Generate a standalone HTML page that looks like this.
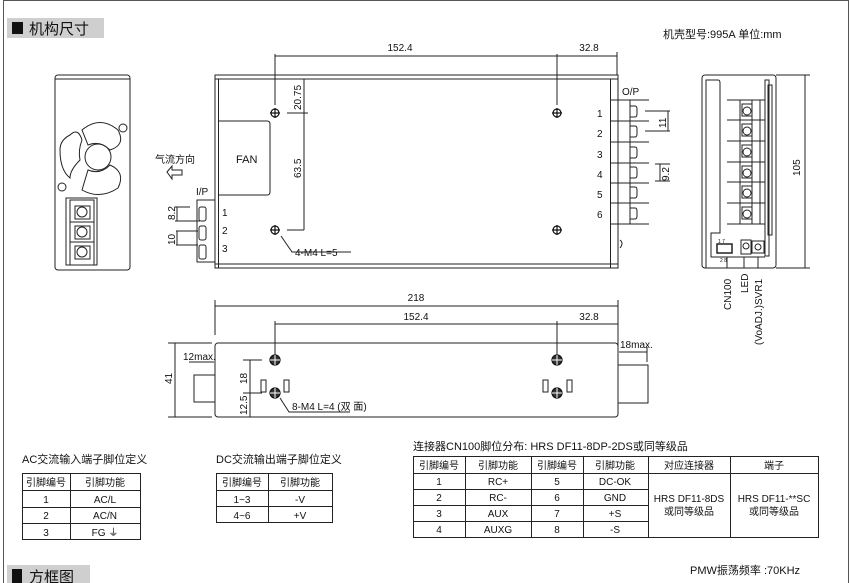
<!DOCTYPE html>
<html><head><meta charset="utf-8"><style>
html,body{margin:0;padding:0;background:#fff;width:851px;height:583px;overflow:hidden}
svg{display:block}
text{font-family:"Liberation Sans","Noto Sans CJK SC",sans-serif;fill:#111}
.c{font-family:"Liberation Sans","Noto Sans CJK SC",sans-serif}
</style></head><body>
<svg width="851" height="583" viewBox="0 0 851 583" xmlns="http://www.w3.org/2000/svg">
<g fill="none" stroke="#222" stroke-width="1">
<!-- frame -->
<line x1="3" y1="0.5" x2="848" y2="0.5" stroke="#555"/>
<line x1="3.5" y1="0" x2="3.5" y2="583" stroke="#555"/>
<line x1="848.5" y1="0" x2="848.5" y2="583" stroke="#555"/>
</g>
<rect x="7" y="18" width="97" height="20" fill="#cfcfcf"/>
<rect x="12" y="22" width="11" height="12" fill="#111"/>
<text x="29" y="34" font-size="15" fill="#333">机构尺寸</text>
<text x="663" y="38" font-size="11" fill="#666">机壳型号:995A  单位:mm</text>

<g fill="none" stroke="#222" stroke-width="1">
<!-- left end view -->
<rect x="55" y="75" width="75" height="195" rx="3"/>
<line x1="55" y1="79" x2="130" y2="79"/>
<path d="M70 135 Q78 127 82 140 Q78 150 80 160 Q70 170 70 178 Q60 170 60 150 Q60 140 70 135Z"/>
<path d="M82 130 Q100 115 118 130 Q126 145 110 150 Q100 140 88 145 Z"/>
<path d="M82 190 Q100 200 118 188 Q126 172 110 165 Q100 175 88 170 Z"/>
<circle cx="98" cy="157" r="13"/>
<circle cx="123" cy="128" r="4"/><circle cx="62" cy="187" r="4"/>
<rect x="66" y="198" width="31" height="67"/>
<rect x="70" y="200" width="24" height="65"/>
<line x1="70" y1="222" x2="94" y2="222"/><line x1="70" y1="242" x2="94" y2="242"/>
<rect x="75" y="206" width="15" height="13"/><circle cx="82" cy="212" r="5"/>
<rect x="75" y="226" width="15" height="13"/><circle cx="82" cy="232" r="5"/>
<rect x="75" y="246" width="15" height="13"/><circle cx="82" cy="252" r="5"/>

<!-- main top view -->
<rect x="215" y="75" width="403" height="193"/>
<line x1="215" y1="79" x2="618" y2="79"/>
<line x1="218.5" y1="79" x2="218.5" y2="268"/>
<line x1="610.5" y1="79" x2="610.5" y2="268"/>
<line x1="215" y1="264" x2="618" y2="264"/>
<path d="M218 121 H267 Q270 121 270 124 V192 Q270 195 267 195 H218"/>
<!-- dims -->
<line x1="275" y1="56" x2="617" y2="56"/>
<line x1="275" y1="54" x2="275" y2="105"/>
<line x1="557" y1="54" x2="557" y2="105"/>
<line x1="617" y1="52" x2="617" y2="75"/>
<line x1="304" y1="79" x2="304" y2="230"/>
<line x1="287" y1="113" x2="308" y2="113"/>
<line x1="287" y1="230" x2="304" y2="230"/>
<path d="M281 236 L292 252 H351"/>
<!-- I/P -->
<path d="M215 200 H197 V262 H215"/>
<rect x="199" y="207" width="7" height="14" rx="2"/>
<rect x="199" y="226" width="7" height="14" rx="2"/>
<rect x="199" y="245" width="7" height="14" rx="2"/>
<path d="M175 207 H190 M175 221 H200 M176 231 H198 M176 245 H198"/>
<line x1="177" y1="207" x2="177" y2="221"/><line x1="177" y1="231" x2="177" y2="245"/>
<path d="M167 172 L172 166 V170 H182 V175 H172 V179 Z"/>
<!-- O/P -->
<g>
<line x1="610" y1="100" x2="649" y2="100"/><line x1="610" y1="121" x2="649" y2="121"/>
<line x1="610" y1="142" x2="649" y2="142"/><line x1="610" y1="163" x2="649" y2="163"/>
<line x1="610" y1="183" x2="649" y2="183"/><line x1="610" y1="203" x2="649" y2="203"/>
<line x1="610" y1="224" x2="649" y2="224"/>
<line x1="630" y1="100" x2="630" y2="224"/>
<path d="M630 106 H635 Q637 106 637 109 V114 Q637 117 635 117 H630"/>
<path d="M630 126 H635 Q637 126 637 129 V134 Q637 137 635 137 H630"/>
<path d="M630 147 H635 Q637 147 637 150 V155 Q637 158 635 158 H630"/>
<path d="M630 167 H635 Q637 167 637 170 V175 Q637 178 635 178 H630"/>
<path d="M630 187 H635 Q637 187 637 190 V195 Q637 198 635 198 H630"/>
<path d="M630 208 H635 Q637 208 637 211 V216 Q637 219 635 219 H630"/>
<path d="M620 240 Q624 243 620 248"/>
<path d="M645 111 H670 M645 131 H670 M668 111 V131"/>
<path d="M655 164 H670 M655 181 H670 M660 164 V181"/>
</g>
<!-- right end view -->
<rect x="702" y="75" width="74" height="193" rx="3"/>
<path d="M706 268 V80 H718 Q720 80 720 83 V233 H711 V257 H765"/>
<rect x="765" y="80" width="4" height="176"/>
<rect x="768" y="85" width="4" height="150"/>
<line x1="740" y1="100" x2="740" y2="224"/><line x1="752" y1="100" x2="752" y2="224"/>
<line x1="760" y1="100" x2="760" y2="224"/>
<path d="M727 100 H765 M727 120 H765 M727 141 H765 M727 162 H765 M727 182 H765 M727 203 H765 M727 224 H765"/>
<rect x="742" y="104" width="10" height="12"/><circle cx="747" cy="111" r="4"/>
<rect x="742" y="124" width="10" height="12"/><circle cx="747" cy="131" r="4"/>
<rect x="742" y="145" width="10" height="12"/><circle cx="747" cy="152" r="4"/>
<rect x="742" y="166" width="10" height="12"/><circle cx="747" cy="173" r="4"/>
<rect x="742" y="186" width="10" height="12"/><circle cx="747" cy="193" r="4"/>
<rect x="742" y="207" width="10" height="12"/><circle cx="747" cy="214" r="4"/>
<rect x="717" y="244" width="15" height="9" stroke-width="1.5"/>
<rect x="741" y="240" width="10" height="14"/><circle cx="746" cy="246" r="3"/>
<rect x="752" y="241" width="12" height="12"/><circle cx="758" cy="247" r="3"/>
<line x1="727" y1="257" x2="727" y2="268"/><line x1="744" y1="257" x2="744" y2="268"/><line x1="758" y1="257" x2="758" y2="268"/>
<path d="M776 75 H810 M776 268 H810 M805 75 V268"/>

<!-- bottom side view -->
<rect x="215" y="343" width="403" height="74" rx="3"/>
<path d="M215 306 H618 M215 300 V335 M618 300 V360"/>
<path d="M275 324 H618 M275 321 V355 M557 321 V355"/>
<path d="M215 375 H194 V402 H215"/>
<path d="M618 365 H648 V403 H618"/>
<path d="M619 352 H647 M647 347 V362"/>
<path d="M189 362 H214"/>
<path d="M168 343 H212 M168 417 H212 M175 343 V417"/>
<path d="M243 360 H262 M243 393 H262 M250 360 V417"/>
<path d="M280 398 L289 412 H350"/>
<rect x="261" y="380" width="5" height="12"/><rect x="284" y="380" width="5" height="12"/>
<rect x="543" y="380" width="5" height="12"/><rect x="567" y="380" width="5" height="12"/>
</g>
<!-- screws -->
<g stroke="#111" stroke-width="1.2">
<g fill="#fff"><circle cx="275" cy="113" r="4"/><circle cx="275" cy="230" r="4"/><circle cx="557" cy="113" r="4"/><circle cx="557" cy="230" r="4"/></g>
<path d="M270 113 H280 M275 108 V118 M270 230 H280 M275 225 V235 M552 113 H562 M557 108 V118 M552 230 H562 M557 225 V235"/>
<g fill="#333"><circle cx="275" cy="360" r="5"/><circle cx="557" cy="360" r="5"/><circle cx="275" cy="393" r="5"/><circle cx="557" cy="393" r="5"/></g>
<path d="M270 360 H280 M275 355 V365 M552 360 H562 M557 355 V365 M270 393 H280 M275 388 V398 M552 393 H562 M557 388 V398" stroke="#fff" stroke-width="1"/>
</g>
<!-- labels -->
<g font-size="10">
<text x="400" y="51" text-anchor="middle">152.4</text>
<text x="589" y="51" text-anchor="middle">32.8</text>
<text x="236" y="163" font-size="11">FAN</text>
<text x="155" y="163" font-size="10" fill="#444">气流方向</text>
<text x="196" y="195">I/P</text>
<text x="222" y="216">1</text><text x="222" y="234">2</text><text x="222" y="252">3</text>
<text x="295" y="256">4-M4 L=5</text>
<text x="622" y="95">O/P</text>
<text x="597" y="117">1</text><text x="597" y="137">2</text><text x="597" y="158">3</text>
<text x="597" y="178">4</text><text x="597" y="198">5</text><text x="597" y="218">6</text>
<text transform="translate(301,110) rotate(-90)">20.75</text>
<text transform="translate(301,178) rotate(-90)">63.5</text>
<text transform="translate(175,220) rotate(-90)">8.2</text>
<text transform="translate(175,245) rotate(-90)">10</text>
<text transform="translate(666,128) rotate(-90)">11</text>
<text transform="translate(669,181) rotate(-90)">9.2</text>
<text transform="translate(800,176) rotate(-90)">105</text>
<text transform="translate(731,310) rotate(-90)">CN100</text>
<text transform="translate(748,293) rotate(-90)">LED</text>
<text transform="translate(762,345) rotate(-90)">(VoADJ.)SVR1</text>
<text x="718" y="243" font-size="5">1  7</text><text x="720" y="262" font-size="5">2  8</text>
<text x="416" y="301" text-anchor="middle">218</text>
<text x="416" y="320" text-anchor="middle">152.4</text>
<text x="589" y="320" text-anchor="middle">32.8</text>
<text x="183" y="360">12max.</text>
<text x="620" y="348">18max.</text>
<text transform="translate(172,384) rotate(-90)">41</text>
<text transform="translate(247,384) rotate(-90)">18</text>
<text transform="translate(247,415) rotate(-90)">12.5</text>
<text x="292" y="410">8-M4 L=4 (双 面)</text>
</g>

<!-- tables -->
<g font-size="11">
<text x="22" y="463">AC交流输入端子脚位定义</text>
<text x="216" y="463">DC交流输出端子脚位定义</text>
<text x="413" y="450">连接器CN100脚位分布: HRS DF11-8DP-2DS或同等级品</text>
</g>
<g fill="none" stroke="#222">
<rect x="22.5" y="473.5" width="118" height="66"/>
<path d="M22 490.5 H141 M22 507.5 H141 M22 523.5 H141 M70.5 473 V540"/>
<rect x="216.5" y="473.5" width="116" height="49"/>
<path d="M216 490.5 H333 M216 506.5 H333 M268.5 473 V523"/>
<rect x="413.5" y="456.5" width="405" height="81"/>
<path d="M413 473.5 H819 M413 489.5 H648 M413 505.5 H648 M413 521.5 H648 M465.5 456 V538 M531.5 456 V538 M583.5 456 V538 M648.5 456 V538 M730.5 456 V538"/>
</g>
<g font-size="10" text-anchor="middle">
<g fill="#888"><text x="46" y="486">引脚编号</text><text x="105" y="486">引脚功能</text>
<text x="242" y="486">引脚编号</text><text x="300" y="486">引脚功能</text>
<text x="439" y="469">引脚编号</text><text x="498" y="469">引脚功能</text><text x="557" y="469">引脚编号</text><text x="615" y="469">引脚功能</text><text x="689" y="469">对应连接器</text><text x="774" y="469">端子</text></g>
<text x="46" y="503">1</text><text x="105" y="503">AC/L</text>
<text x="46" y="519">2</text><text x="105" y="519">AC/N</text>
<text x="46" y="536">3</text><text x="105" y="536">FG ⏚</text>
<text x="242" y="503">1~3</text><text x="300" y="503">-V</text>
<text x="242" y="519">4~6</text><text x="300" y="519">+V</text>
<text x="439" y="485">1</text><text x="498" y="485">RC+</text><text x="557" y="485">5</text><text x="615" y="485">DC-OK</text>
<text x="439" y="501">2</text><text x="498" y="501">RC-</text><text x="557" y="501">6</text><text x="615" y="501">GND</text>
<text x="439" y="517">3</text><text x="498" y="517">AUX</text><text x="557" y="517">7</text><text x="615" y="517">+S</text>
<text x="439" y="533">4</text><text x="498" y="533">AUXG</text><text x="557" y="533">8</text><text x="615" y="533">-S</text>
<text x="689" y="502">HRS DF11-8DS</text><text x="689" y="515" fill="#555">或同等级品</text>
<text x="774" y="502">HRS DF11-**SC</text><text x="774" y="515" fill="#555">或同等级品</text>
</g>
<text x="690" y="574" font-size="11">PMW振荡频率 :70KHz</text>
<rect x="7" y="565" width="83" height="20" fill="#cfcfcf"/>
<rect x="12" y="569" width="10" height="14" fill="#111"/>
<text x="29" y="582" font-size="15" fill="#333">方框图</text>
</svg>
</body></html>
